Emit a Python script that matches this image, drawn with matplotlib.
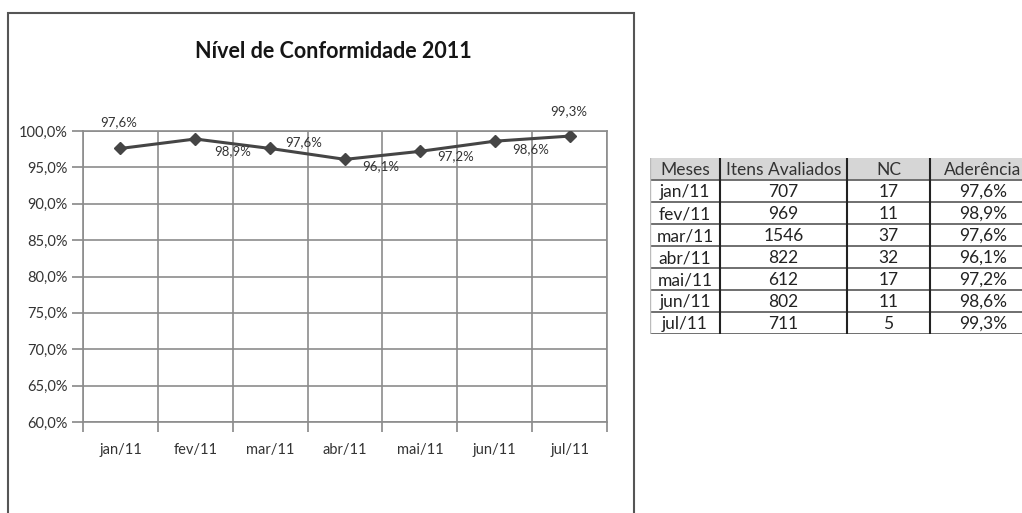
import numpy as np
import matplotlib.pyplot as plt
from matplotlib.patches import Rectangle
from matplotlib.ticker import FuncFormatter

plt.rcParams['font.family'] = ['Lato', 'DejaVu Sans']

# dados
meses = ['jan/11', 'fev/11', 'mar/11', 'abr/11', 'mai/11', 'jun/11', 'jul/11']
itens = [707, 969, 1546, 822, 612, 802, 711]
nc = [17, 11, 37, 32, 17, 11, 5]
aderencia = [97.6, 98.9, 97.6, 96.1, 97.2, 98.6, 99.3]
y_ticks = [60, 65, 70, 75, 80, 85, 90, 95, 100]
colunas = ['Meses', 'Itens Avaliados', 'NC', 'Aderência']

# posicao dos rotulos (pixels, como no Excel)
lbl_off = [(-2, 26), (37, -12), (34, 6), (36, -7), (36, -5), (36, -8), (-1, 25)]

def pct(v):
    return f'{v:.1f}%'.replace('.', ',')

fig = plt.figure(figsize=(10.22, 5.13), dpi=100)
fig.patch.set_facecolor('white')

# moldura do grafico
fig.patches.append(Rectangle((8/1022, -0.1), (634-8)/1022, 1.1 - 13/513,
                             transform=fig.transFigure, fill=False,
                             edgecolor='#555555', lw=1.5))

ax = fig.add_axes([83/1022, 1 - 422/513, (607-83)/1022, (422-131)/513])
x = np.arange(len(meses))
ax.plot(x, aderencia, color='#454545', lw=2.2, marker='D', ms=6.5, zorder=3)
for xi, v, (dx, dy) in zip(x, aderencia, lbl_off):
    ax.annotate(pct(v), (xi, v), xytext=(dx, dy), textcoords='offset pixels',
                ha='center', va='center', fontsize=9.5, color='#333333')

ax.set_xlim(-0.5, len(meses) - 0.5)
ax.set_ylim(60, 100)
ax.set_yticks(y_ticks)
ax.yaxis.set_major_formatter(FuncFormatter(lambda v, p: pct(v)))
ax.set_xticks(x)
ax.set_xticklabels(meses)
ax.set_xticks(np.arange(-0.5, len(meses)), minor=True)
ax.tick_params(axis='x', which='major', length=0, pad=15, labelsize=10.5, colors='#333333')
ax.tick_params(axis='x', which='minor', length=7, width=1.2, color='#888888')
ax.tick_params(axis='y', length=8, width=1.2, color='#888888', pad=3,
               labelsize=10.5, labelcolor='#333333')
ax.grid(axis='y', color='#8c8c8c', lw=1.2)
ax.grid(axis='x', which='minor', color='#8c8c8c', lw=1.2)
for s in ax.spines.values():
    s.set_color('#8c8c8c')
    s.set_linewidth(1.2)

fig.text(333/1022, 1 - 52/513, 'Nível de Conformidade 2011', ha='center', va='center',
         fontsize=15.5, fontweight='bold', color='#151515')

# tabela
larg = 386
tx = fig.add_axes([650/1022, 1 - 334/513, larg/1022, 176/513])
tx.set_xlim(0, larg)
tx.set_ylim(len(meses) + 1, 0)
tx.axis('off')
bordas = [0, 70, 197, 280, larg]
tx.add_patch(Rectangle((0, 0), larg, 1, facecolor='#d6d6d6', edgecolor='none'))
linhas = [[m, str(i), str(n), pct(a)] for m, i, n, a in zip(meses, itens, nc, aderencia)]
for c, nome in enumerate(colunas):
    tx.text((bordas[c] + bordas[c+1]) / 2, 0.55, nome, ha='center', va='center',
            fontsize=12.5, color='#333333')
for r, lin in enumerate(linhas):
    for c, val in enumerate(lin):
        tx.text((bordas[c] + bordas[c+1]) / 2, r + 1.55, val, ha='center', va='center',
                fontsize=12.5, color='#222222')
for r in range(1, len(meses) + 2):
    tx.plot([0, larg], [r, r], color='#6f6f6f', lw=1.4)
for b in bordas[1:-1]:
    tx.plot([b, b], [0, len(meses) + 1], color='#222222', lw=1.5)
tx.plot([0, 0], [0, len(meses) + 1], color='#bbbbbb', lw=1)

plt.savefig('out.png', dpi=100)
